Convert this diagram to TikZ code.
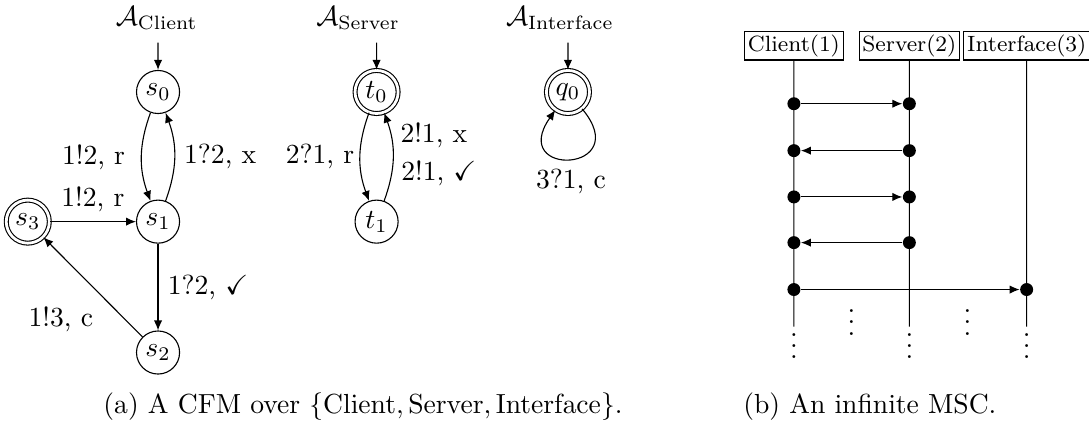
\documentclass[tikz,border=0pt]{standalone}
\usepackage{amsmath}
\usepackage{amssymb}
\usepackage{tikz}
\usetikzlibrary{arrows.meta,positioning}

\tikzset{
  st/.style={circle,draw,minimum size=15.6pt,inner sep=0pt},
  acc/.style={st,double,double distance=1pt},
  proc/.style={draw,rectangle,inner sep=1.2pt,font=\footnotesize},
  evt/.style={circle,fill,inner sep=0pt,minimum size=4.7pt},
  dots/.style={inner sep=0pt},
}

\begin{document}
\begin{tikzpicture}[>={Latex[length=3.6pt,width=3pt]}, scale=0.786]
\useasboundingbox (0,0) rectangle (17.64,7.09);
% client
\node (tc) at (2.54,6.79) {$\mathcal{A}_{\text{Client}}$};
\coordinate (ic) at (2.56,6.40);
\node[st] (s0) at (2.56,5.60) {$s_0$};
\node[st] (s1) at (2.56,3.50) {$s_1$};
\node[st] (s2) at (2.56,1.38) {$s_2$};
\node[acc] (s3) at (0.45,3.50) {$s_3$};
\draw[->] (ic) -- (s0);
\draw[->] (s0) to[bend right=20] node[left=2.5pt] {1!2, r} (s1);
\draw[->] (s1) to[bend right=20] node[right] {1?2, x} (s0);
\draw[->] (s3) -- node[above] {1!2, r} (s1);
\draw[->] (s1) -- node[right] {1?2, $\checkmark$} (s2);
\draw[->] (s2) -- node[pos=0.4,below left] {1!3, c} (s3);
% server
\node (ts) at (5.80,6.79) {$\mathcal{A}_{\text{Server}}$};
\coordinate (is) at (6.10,6.40);
\node[acc] (t0) at (6.10,5.60) {$t_0$};
\node[st] (t1) at (6.10,3.50) {$t_1$};
\draw[->] (is) -- (t0);
\draw[->] (t0) to[bend right=20] node[left,inner sep=2pt] {2?1, r} (t1);
\draw[->] (t1) to[bend right=20] node[pos=0.3,right] {2!1, $\checkmark$} node[pos=0.75,right] {2!1, x} (t0);
% interface
\node (ti) at (9.07,6.79) {$\mathcal{A}_{\text{Interface}}$};
\coordinate (ii) at (9.20,6.40);
\node[acc] (q0) at (9.20,5.60) {$q_0$};
\draw[->] (ii) -- (q0);
\draw[->] (q0) to[loop,out=-50,in=-125,looseness=1,min distance=13.5mm] node[below] {3?1, c} (q0);
% msc
\node[proc] (p1) at (12.86,6.35) {Client(1)};
\node[proc] (p2) at (14.73,6.35) {Server(2)};
\node[proc] (p3) at (16.63,6.35) {Interface(3)};
\coordinate (e1) at (12.86,1.80);
\coordinate (e2) at (14.73,1.80);
\coordinate (e3) at (16.63,1.80);
\draw (p1) -- (e1);
\draw (p2) -- (e2);
\draw (p3) -- (e3);
\node[evt] (a1) at (12.86,5.41) {};
\node[evt] (b1) at (14.73,5.41) {};
\node[evt] (a2) at (12.86,4.65) {};
\node[evt] (b2) at (14.73,4.65) {};
\node[evt] (a3) at (12.86,3.90) {};
\node[evt] (b3) at (14.73,3.90) {};
\node[evt] (a4) at (12.86,3.16) {};
\node[evt] (b4) at (14.73,3.16) {};
\node[evt] (a5) at (12.86,2.40) {};
\node[evt] (c5) at (16.63,2.40) {};
\draw[->] (a1) -- (b1);
\draw[->] (b2) -- (a2);
\draw[->] (a3) -- (b3);
\draw[->] (b4) -- (a4);
\draw[->] (a5) -- (c5);
\node[dots] (d1) at (12.86,1.62) {$\vdots$};
\node[dots] (d2) at (14.73,1.62) {$\vdots$};
\node[dots] (d3) at (16.63,1.62) {$\vdots$};
\node[dots] (d4) at (13.79,2.00) {$\vdots$};
\node[dots] (d5) at (15.67,2.00) {$\vdots$};
% captions
\node (capa) at (5.88,0.50) {(a) A CFM over $\{\mathrm{Client},\mathrm{Server},\mathrm{Interface}\}$.};
\node (capb) at (14.09,0.50) {(b) An infinite MSC.};
\end{tikzpicture}
\end{document}
